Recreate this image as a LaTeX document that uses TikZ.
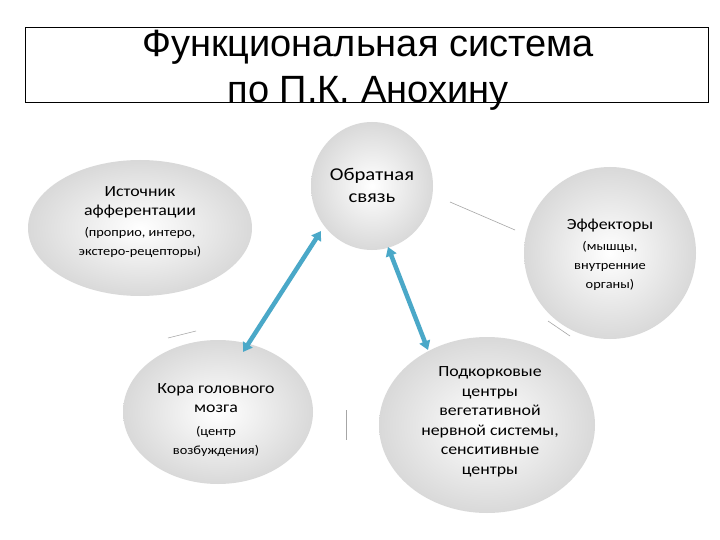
\documentclass[tikz,border=0pt]{standalone}
\usepackage{fontspec}
\usetikzlibrary{shapes.geometric,arrows.meta}
\setmainfont[FakeStretch=1.15]{Carlito}
\newfontfamily\titlefont{Liberation Sans}
\definecolor{arr}{HTML}{4AA8C8}
\begin{document}
\begin{tikzpicture}[x=1pt,y=-1pt,
  blob/.style={ellipse,inner sep=0pt,align=center,font=\fontsize{15.5}{19}\selectfont},
  thinln/.style={draw=gray!70,line width=0.6pt},
  barrow/.style={draw=arr,line width=4.5pt,{Triangle[length=9pt,width=11pt]}-{Triangle[length=9pt,width=11pt]}}]
\useasboundingbox (0,0) rectangle (720,540);
\fill[white] (0,0) rectangle (720,540);
\node[draw=black,line width=0.8pt,minimum width=683pt,minimum height=75pt,inner sep=0pt] (tb) at (366.5,64.5) {};
\node[font=\titlefont\fontsize{38}{46}\selectfont,align=center] (title) at (368,70) {Функциональная система\\по П.К. Анохину};
\def\blobshape#1#2#3#4{\shade[inner color=white,outer color=gray!30,shading=radial] (#1,#2) ellipse [x radius=#3,y radius=#4];}
\blobshape{140}{228}{112}{68}
\blobshape{372}{186}{61}{64}
\blobshape{610}{253}{86}{86}
\blobshape{218}{412}{95}{72}
\blobshape{487}{425}{108}{88}
\node[blob] (src) at (140,222) {Источник\\афферентации\\[2pt]{\fontsize{12.5}{16}\selectfont (проприо, интеро,}\\{\fontsize{12.5}{16}\selectfont экстеро-рецепторы)}};
\node[blob,font=\fontsize{18}{22}\selectfont] (fb) at (372,185) {Обратная\\связь};
\node[blob] (eff) at (610,255) {Эффекторы\\[2pt]{\fontsize{12.5}{16}\selectfont (мышцы,}\\{\fontsize{12.5}{16}\selectfont внутренние}\\{\fontsize{12.5}{16}\selectfont органы)}};
\node[blob] (cor) at (216,420) {Кора головного\\мозга\\[4pt]{\fontsize{12.5}{16}\selectfont (центр}\\{\fontsize{12.5}{16}\selectfont возбуждения)}};
\node[blob,font=\fontsize{15.5}{19.5}\selectfont] (sub) at (490,422) {Подкорковые\\центры\\вегетативной\\нервной системы,\\сенситивные\\центры};
\coordinate (a1) at (243,352); \coordinate (a2) at (321,231);
\coordinate (b1) at (388,247); \coordinate (b2) at (428,350);
\draw[barrow] (a1) -- (a2);
\draw[barrow] (b1) -- (b2);
\coordinate (l1a) at (450,202); \coordinate (l1b) at (515,230);
\coordinate (l2a) at (548,321); \coordinate (l2b) at (570,336);
\coordinate (l3a) at (168,338); \coordinate (l3b) at (196,331);
\coordinate (l4a) at (346,410); \coordinate (l4b) at (346,440);
\draw[thinln] (l1a) -- (l1b);
\draw[thinln] (l2a) -- (l2b);
\draw[thinln] (l3a) -- (l3b);
\draw[thinln] (l4a) -- (l4b);
\end{tikzpicture}
\end{document}
